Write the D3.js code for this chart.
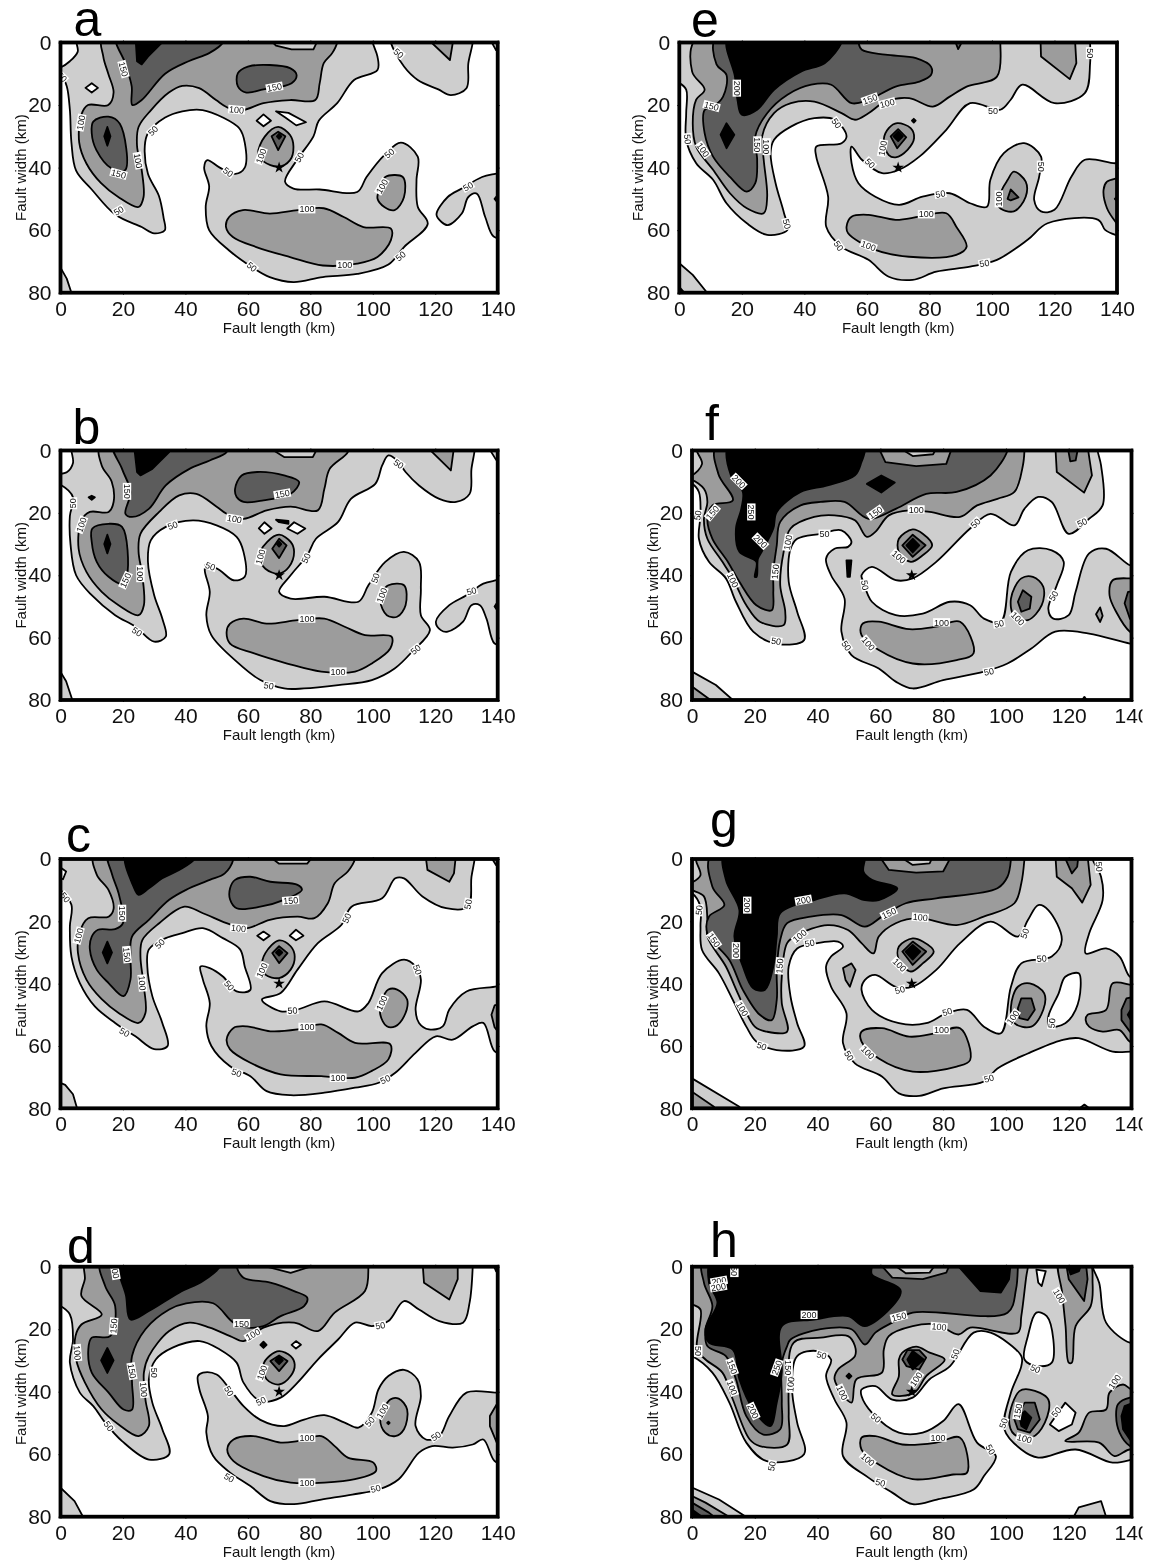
<!DOCTYPE html>
<html><head><meta charset="utf-8">
<style>html,body{margin:0;padding:0;background:#fff}svg{display:block;filter:blur(0.6px)}text{font-family:"Liberation Sans",Arial,sans-serif}</style>
<script src="https://cdnjs.cloudflare.com/ajax/libs/d3/7.8.5/d3.min.js"></script>
</head><body><svg id="chart" width="1162" height="1561"></svg>
<script>
const xTicks=[0,20,40,60,80,100,120,140];
const yTicks=[0,20,40,60,80];
const levelFill={0:"#ffffff",50:"#cecece",100:"#9c9c9c",150:"#5c5c5c",200:"#000000"};
const hypocentre=[70,40];
const panelNames=["a","b","c","d","e","f","g","h"];
// Each ring: [level, [x,y,x,y,...]] in km, painted in order.
const ringsA=[
[50,[5.5,-2,5.5,3,3,6,0,8,-2,8.5,-2,10,0.5,11,2,14,3,21.5,3.5,32,5,41,10,47,17.5,55,26,59,30,61,33.4,60,33,56,31.5,49,28,42,27,33,28,29,33.5,24,39,22,45.5,21.6,52,24,57.3,27.5,59,32,59,40,56,42,51,40,47,37.6,46,40,47.6,46,46.5,52.5,47.6,60,54,66.5,61.6,72,67,75,74.6,76.6,84,75,95,74,105,71,110,65.4,117.6,58,114.4,52.5,114,44,114.4,36.5,109,32,103.7,36,98,43,95,47.8,83,47,74.6,46.7,71.9,44.5,75.7,37.6,81,30,82.7,25,88.6,19.4,94,12,101.5,8.8,101.5,4.5,100,0,100,-2]],
[50,[105.8,-2,105.8,0,110,7.7,114.4,12,121,15,125,16.8,130,14.6,130.6,6.6,132,0,132,-2]],
[50,[120.4,55,124,49.4,128.5,46.7,135,43,139.2,42,142,41.5,142,62,138.7,62,136,55.8,133.3,48.3,130.6,49.4,128.5,54.7,124,58.4,122,57.4]],
[50,[-2,72,0,72,2,75.5,3.5,80,3.5,82,-2,82]],
[50,[137,-2,139.5,2.5,142,4,142,-2]],
[0,[8,14.5,10,13,12,14.5,10,16]],
[0,[62.8,25,65,23,67.4,25,65,26.8]],
[0,[69,22,73,22.5,78.6,25.5,75.5,26.5,72,24]],
[100,[13.7,-2,13.7,4.5,15.3,10,17,16,15.3,20,8.8,20,6.7,23,6,32,8.3,38.7,13,45,18.5,49.4,25,52.6,26.6,49.4,26,40.8,24.5,33,25,27,29,21.6,34.7,16,39,13.9,44.4,14.6,49.8,18.4,54,21,58.4,21.6,65,19.4,73.5,18.4,81.6,18.4,83,13,84.3,6.6,87,3.4,88.6,0,88.6,-2]],
[50,[67,-1,69,1,74,2.2,81,2.2,82.5,-1]],
[100,[65.4,30.1,69.7,27,73.5,29.6,74.6,33.3,73.5,37.6,69.7,39.7,65,38,63.3,35.5]],
[100,[53,59,54,55.8,58.4,53.6,67,54.7,76,53.6,84.3,53,90.7,55.8,97,59,105.8,59.5,105.8,63.2,101.5,68.6,95,70.7,84,71.3,73.5,68.6,62.7,65.4,55.2,62.2]],
[100,[104,43,109.6,43,110,49.4,107,53.6,103.7,52.6,101.5,49.9,102.5,46]],
[100,[117.7,-1,124.7,5.6,125.8,-1]],
[150,[18,-2,20.7,6.6,22.8,14,23,20,26,18.4,33.5,10,41,6,47.6,3.4,52,0,52,-2]],
[150,[10.5,25.3,15.3,23.7,19,26,20.7,40.8,16.4,40.3,11.5,34.4,10,29]],
[150,[56.8,9.8,60,7.7,67,7.2,73.5,8.2,75.6,10.4,74,13,65,15,59.5,16,56.8,14]],
[150,[67.6,30,69.7,28.5,72,30,69.7,34.4]],
[200,[24,-2,24.5,6,26,7,28,4.5,32.5,0,33,-2]],
[200,[14,30,15,27,16,30,15,33]],
[200,[69.3,30,70,29.2,70.7,30,70,30.8]],
[200,[139,50,140,48.8,141,50,140,51.2]]];
const labelsA=[[0.5,11,"50",45],[20.2,8.5,"150",75],[6.5,25.6,"100",-80],[18.6,42,"150",15],[24.9,37.8,"100",80],[29.6,28.2,"50",-45],[18.6,53.8,"50",-30],[56.4,21.5,"100",5],[68.5,14.3,"150",-10],[64.2,36.3,"100",-70],[76.4,36.7,"50",-60],[53.7,41.4,"50",35],[78.9,53.3,"100",0],[102.9,46,"100",-60],[105.3,35.4,"50",-40],[91,71,"100",0],[108.9,68.3,"50",-40],[61.3,71.7,"50",40],[130.5,46,"50",-30],[108.3,3.4,"50",40]];
const ringsB=[
[50,[3.5,-2,3.5,0,4,4,2,7,-2,8,-2,10.5,0,11,4,15,3,21,3.2,30,5,40,10,46.4,17.5,52.8,24,56.5,30,61.3,33.7,59.7,32.6,53.9,30,46.4,28,35.7,28.9,28.8,33.7,24.5,42.4,22.4,50,24,56.4,27.7,58.6,32.5,59,40.5,55.4,41.6,51,38.4,46.7,36.3,46.2,38.4,47.8,45.3,46.7,52.8,48.3,59.2,56.4,67.7,64,73.6,71.6,76.3,78,76.3,88.9,75.2,99.7,73.6,107,69.9,112.6,64.5,118.3,57.6,115.4,52.8,115.4,44.3,114.8,35.7,110,32.5,104,35.7,98.6,43.2,95.4,48.5,84.5,46.9,73.7,47.5,70,45.3,73.7,40,79,33.6,81.8,28.3,88.9,22.9,93,15.5,100.8,10.7,103,4.8,105,1.6,107.8,3.2,110.5,6.9,114.8,11.2,121.3,15.5,126.7,16.5,131,13.9,131.6,5.9,132.6,0,132.6,-2]],
[50,[120.2,54.9,124.5,49.6,130,46.4,135.4,42.7,139.7,41.6,142,41,142,62,139,61.9,136.4,53.9,134.3,49.6,131.6,49.6,128.9,54.9,124,58.1,121.8,57.6]],
[50,[136.4,-2,139.5,3,142,4,142,-2]],
[50,[-2,71,0,71,1.8,74,3.8,80,4,82,-2,82]],
[0,[63.5,25,65.3,23,67.6,25,65.3,26.7]],
[0,[72.6,25,74.8,23,78.4,25,75.9,26.7]],
[200,[9,15,10,14.5,11,15,10,15.8]],
[200,[69,22.2,73,22.6,73,23.5,70,23]],
[100,[13,-2,13.2,4.8,16.4,10,17,16.5,15.4,19.7,9.4,19.7,6.7,22.4,5.8,31.5,8.3,38.9,13.2,45.3,18.6,49.6,25,52.8,26.7,49.6,26.2,40,25,32.5,25.6,26.7,31.6,19.7,38,14.4,43.5,13.9,50,18,53.2,20.3,58.6,21.9,66,19.2,73.7,18,82.4,19.2,84.5,12.3,86.2,5.9,92,0.5,92,-2]],
[50,[66.7,-1,71.6,2.1,80.8,2.1,82.4,-1]],
[100,[66.2,29.3,70,27,73.7,29.3,74.8,32.5,73.2,37.3,70,39.5,65.6,37.9,63.5,34.1]],
[100,[53.2,58.1,54.3,55.5,58.6,53.9,66,55.5,75.9,54.4,84.5,53.9,91,56.5,97.5,59.2,106,59.7,105.6,63.5,99.7,68.3,94.3,70.9,83.5,70.9,72.6,68.3,61.8,65,54.3,61.9]],
[100,[105,43.2,110,43.2,110.5,49.6,107.8,53.3,104.5,52.8,102.4,48.5,103,45.5]],
[100,[117.5,-1,125,6.4,126,-1]],
[150,[17,-2,19.7,5.9,22.4,13.3,20.8,20.3,22.9,21.3,28.3,18.7,33.7,11.2,41.3,5.9,47.8,3.2,53.2,0.5,53.2,-2]],
[150,[10.2,25,15.4,23.5,19.7,24.5,21.3,40,19.7,42.7,15.4,40.5,11.6,35.7,10,29.3]],
[150,[55.9,12.3,58,8,63,6.9,71.6,8,76.4,10.1,73.7,13.9,65,16,58.6,16.5,56.4,14.9]],
[150,[70,28.3,72.4,30.4,70,34.5,67.8,31.5]],
[200,[23.5,-2,24.5,6.9,25.6,8,29.4,5.9,34.8,0.5,35,-2]],
[200,[14,30,15,27,16,30,15,33]],
[200,[69.3,30,70,29.2,70.7,30,70,30.8]],
[200,[139,50,140,48.5,141,50,140,51.5]]];
const labelsB=[[4,16.9,"50",-90],[6.7,23.8,"100",-70],[21.3,13.1,"150",90],[20.8,41.6,"150",-65],[25.6,39.5,"100",90],[35.9,24,"50",-20],[55.7,21.9,"100",10],[71,13.9,"150",-10],[64,34.1,"100",-75],[78.6,34.5,"50",-65],[48,37.1,"50",20],[108.3,4.3,"50",35],[24.5,58.1,"50",35],[78.9,53.9,"100",0],[100.8,40.9,"50",-70],[102.9,46.4,"100",-70],[88.9,70.9,"100",0],[113.7,63.8,"50",-40],[66.7,75.4,"50",10],[131.6,45.1,"50",-15]];
const ringsC=[
[50,[-2,-2,-2,9.5,0,10,3.5,14.7,3,21.7,3.5,31.3,6.2,39.8,11,47.3,17.5,52.6,24,56.9,30,61,34.3,60,32.6,52.6,29.4,44,27.8,34.5,28.3,29,33.7,25.4,39,23.8,45.6,22.2,52,25.4,57.5,29,59,34.5,60.8,42,56.4,42.5,52,37.7,47.8,35,44.8,34.5,45.6,38.7,47.8,46.2,46.7,53.7,48.3,60,54.3,66.5,60.8,69.7,66,74.5,73.7,75.8,84.5,75,94.3,73.4,101.9,71.8,107.2,68.6,113.7,62.2,120.2,56.9,125.6,58,132,53.7,135.4,52.6,139,61.7,142,62,142,40,139.7,40.9,130,42.5,124.5,48.3,122.4,53.7,118,54.7,114.8,52.6,113.7,48.3,115.4,38.7,113.7,34.5,110,32.3,103,36.6,98.6,46.2,95.4,48.9,84.5,45.7,75.9,48.3,70.5,48.9,64.5,45.1,70.5,43,75.9,35.5,82.4,27,90,21.1,93.2,15.3,103,12.6,107.2,6.2,110,6.2,115.9,12,123.5,15.8,130.5,15.3,131.6,5.7,132.6,0,132.6,-2]],
[50,[-2,71,1.5,72.5,4,75.5,5.3,80,5.5,82,-2,82]],
[0,[-1,2,1.8,4,0.8,6.5,-1,6]],
[0,[63,24.6,65,23.3,67,24.6,65,26.1]],
[0,[73.4,24.6,75.4,22.7,77.8,24.6,75.4,26.1]],
[100,[11,-2,11.6,5,15.4,10,17,16,15.4,18.5,8.9,19,6.2,23.3,5.6,30.2,8.3,38.7,13.2,45,18.6,49.4,25,52.6,27.2,49.4,26.7,40.9,25.6,31.3,26.2,26,31.6,20.6,39.7,15.3,45.6,17.4,54.3,21,59.7,22.2,67,19.5,75.9,18.5,81.3,19,85.6,14.2,87.8,7.8,92,4,94.3,0,94.3,-2]],
[50,[66.7,-1,70,1.5,79,1.5,81,-1]],
[100,[65.6,30.2,70,26.1,73.7,28,75,31.3,73.7,35.5,70,38.2,65.6,37.1,64.5,34.5]],
[100,[53.2,57.9,55.4,54.2,59.7,53.7,67.2,55.3,75.9,54.7,83.5,53.1,88.9,55.8,94.3,59,105.6,59.5,105,64.3,99.7,68,94.3,70.2,83.5,69.7,70.5,69.1,60.8,65.4,54.3,61.1]],
[100,[105,41.9,107.8,41.9,111,45.1,110,50.5,107.2,53.7,104.5,53.7,102.4,49.9,102.9,45.5]],
[100,[116.8,-2,117.5,3.5,124.5,7.3,126,4.6,126.7,-2]],
[100,[137,-2,139.5,2,142,-2]],
[100,[142,46,139,47,138,50,139,54,142,58]],
[150,[15.4,-2,16.4,4.6,18.6,11,20,20.6,17.5,22.5,12,22.7,10,24.9,9.4,29,11.6,35.5,15.4,39.8,20.2,44,22.4,38.7,22.4,31.3,22.9,24.9,28.3,19.5,34.8,13.1,40.2,9.9,47.8,6.7,52.6,4.6,55.4,0,55.4,-2]],
[150,[54.3,9.4,55.9,6.7,60.8,5.7,67.2,7.3,75.9,8.3,77.3,9.9,71.6,13.1,64,15.3,56.4,15.8,54.3,13]],
[150,[67.8,30.2,70,28,72.7,30.2,70,33.4]],
[200,[21,-2,23.4,8.9,25,11.5,28.3,9.4,32.6,6.2,38,3.5,42.9,0,43,-2]],
[200,[13.5,30,15,26.5,16.5,30,15,33.5]],
[200,[69,30,70,29,71,30,70,31]]];
const labelsC=[[1.5,12.3,"50",50],[19.7,17.4,"150",90],[5.8,24.6,"100",-75],[21.3,30.7,"150",85],[26.2,39.8,"100",85],[31.8,27.2,"50",-45],[57,22.2,"100",5],[73.7,13.3,"150",-5],[64.5,35.7,"100",-65],[91.6,19,"50",-65],[130.5,14.5,"50",-80],[114.3,35.5,"50",70],[54,40.6,"50",50],[102.9,46.2,"100",-65],[74.3,48.6,"50",-5],[78.9,53.9,"100",0],[88.9,70.2,"100",0],[20.5,55.6,"50",30],[56.4,68.6,"50",20],[104,70.7,"50",-25]];
const ringsD=[
[50,[-2,-2,-2,12,0,12.6,3,15.3,4,23.3,3,30.7,6.2,40.3,10.5,44.6,14.3,49.9,19.7,55.8,28.3,61.7,34.8,60,32.6,52,29.4,43.5,28.3,36,30.5,29.7,35.9,25.9,44.6,23.8,51,26.5,56.4,30.7,58.6,37.1,64,43,70.5,41.9,75.9,37.1,82.4,29.7,88.9,23.3,94.3,17.9,99.7,19,105,17.4,110,11,114.8,13.7,121.3,17.4,128.9,17.9,131,11.5,132,0,132,-2]],
[50,[44,35,45.6,33.9,50,34.5,54.3,39.3,58.6,44.6,64,49,71.6,51,78,48.9,84.5,47.5,91,49.9,95.4,51.5,99.7,46.7,101.8,39.3,105,35,110,33,114.3,36,115.4,41.4,113.7,51,117,55.3,121.3,54.2,124.5,47.8,130,40.3,139.7,40.3,142,40,142,63,139,62.2,135.4,55.3,132,56.9,125.6,57.9,119,57.4,114.8,59.5,108.3,68,101.9,71.3,93.4,72.9,83.5,74.5,74.8,76,67.2,75,60.8,70.2,54.3,65.9,48.9,60.6,46.7,53.1,47.2,47.8,44.5,39.3]],
[50,[-2,70,0,70.7,4.5,75,7.2,80,7.5,82,-2,82]],
[50,[138,-2,139.5,1.5,142,-2]],
[0,[74,25,75.4,23.8,77,25,75.4,26.2]],
[100,[8.3,-2,7.8,4,6.7,9.4,13.2,15.3,6.7,18.5,4.8,22.2,5,29.7,7.8,37,13.2,45.7,18.6,50.5,25,54.2,28.3,51,27.2,42.5,26.7,33.9,28.3,28.6,34.8,20.6,41.3,17.9,47.8,19.5,54.3,22.2,58.6,23.8,65,19.5,74.8,17.9,82.4,20.6,87.8,14.7,97.5,7.8,98.6,0,98.6,-2]],
[100,[70,27,73.7,28.6,75,31.3,73.7,35,70,37.7,66,36,65,31.3,67,28.5]],
[100,[53.4,58.5,55.4,55.3,61.8,54.2,70.5,56.3,75.9,55.8,83.5,54.2,87.8,57.4,92,61.1,100.2,62.7,101,65.4,94.3,68,84.5,69.1,73.7,69.1,65,67,55.4,62.2]],
[100,[105.6,42.5,108.3,42.2,111,45.7,110,52,107.2,54.2,104,53.1,102.4,48.9]],
[100,[115.9,-2,116.4,5.1,124.5,10.5,127.2,4,127.2,-2]],
[100,[137.5,47.8,139.7,44,142,43,142,60,139.7,56.3,137.5,51]],
[150,[13,-2,14.3,6.2,17.5,12.6,15.9,22.2,10,22.7,8.9,26.5,10,33.9,15.4,40.3,20.2,45.7,22.9,45.7,22.9,37,22.9,28.6,27.2,20,34.8,13.7,40.2,11.7,48.9,11.7,55.4,17.9,60,19.5,65,19,70.5,15.8,78,12.6,79,9.9,74.8,7.8,67.2,5.1,58.6,3.5,56.4,0,56.4,-2]],
[50,[66,-2,66,0,73.7,2,80,0,80,-2]],
[150,[67.2,30.2,70,28.4,72.7,30.2,70,33.4]],
[200,[19,-2,21,9.4,22.4,16.9,28.3,14.2,38,8.3,45.6,4.6,51,0,51,-2]],
[200,[13,30,15,26,17,30,15,34]],
[200,[68.8,30,70,28.8,71.2,30,70,31.2]],
[200,[64,25,65,24,66,25,65,26]],
[200,[104.6,50,105,49.6,105.4,50,105,50.4]]];
const labelsD=[[17.5,1.4,"200",80],[17,19,"150",-85],[5.4,27.5,"100",85],[22.9,33.4,"150",80],[15.5,51,"50",55],[26.7,39.3,"100",85],[29.9,33.9,"50",90],[58,18.1,"150",0],[61.6,21.7,"100",-30],[64.5,33.9,"100",-70],[54,39.8,"50",60],[64.2,43,"50",-25],[102.4,18.8,"50",-10],[99,49.6,"50",-50],[103.1,46.2,"100",-60],[78.9,54.7,"100",0],[120.2,54.2,"50",-35],[78.9,69.1,"100",0],[54,67.5,"50",30],[100.9,71,"50",-15]];
const ringsE=[
[50,[-2,-2,-2,12.5,0,13,2.2,15.1,2.2,22.6,2.2,31.1,5.4,38.6,10.8,43.9,15.1,51.4,21.6,57.8,28.1,61.5,34.6,59.9,33.5,54.6,30.8,45,29.2,35.4,30.3,31.1,35.7,26.9,43.2,24.2,49.7,24.7,53.5,30,51.9,32.2,43.8,33.3,43.8,36.5,47.6,49.3,47,58.9,51.9,65.3,60.5,69.5,67,74.9,74.6,75.9,82.2,73.3,93,71.7,101.6,69.5,111.4,63.1,117.8,57.8,134,56.7,136.2,59.9,139.5,61.5,142,62,142,38,139.5,38.6,129.7,37.5,125.4,42.9,120,53.5,115.7,54,113.5,50.3,115.1,42.9,115.7,36.5,110.3,32.2,103.8,35.4,99.5,43.9,98.4,52.5,93,51.4,86.5,48.2,77.8,49.3,70.3,51.9,62.7,49.3,57.3,45,55.1,38.6,55.1,33.3,58.4,37.5,64.9,41.8,70.3,40.7,76.8,36.5,85.4,27.9,93,19.4,102.7,21.5,106,18.3,109.7,13.5,120,19.4,129.7,16.2,131.4,6.6,131.4,0,131.4,-2]],
[50,[-2,70,0,70.6,4.3,74.3,8.9,80,9,82,-2,82]],
[200,[-1,77,1.6,80,-1,81]],
[100,[6,-2,4.1,9.3,8.1,15.1,5.4,18.3,4.3,25.8,5.4,33.3,10.8,40.7,16.2,48.2,21.6,53,27,54.6,28.1,49.3,27,37.5,26.5,30,30.3,22.6,35.7,19.4,43.2,18.9,51.9,22.6,56.2,24.7,60.5,22.6,65.9,18.9,73.5,17.8,81.1,20.5,86.5,17.3,91.9,14.1,101.6,10.9,102.7,0,102.7,-2]],
[100,[69.7,25.8,74,27.4,75.1,30.6,73,34.3,69.2,36.7,67,36,65.4,31.1,67,27.4]],
[100,[53.5,58.9,55.1,55.7,60.5,55.1,69.2,56.7,76.8,55.7,85.4,54.6,88.6,58.9,91.9,65.3,88.6,67.9,73.5,68.5,62.7,66.3,54,61]],
[100,[103.2,47.1,105,44,107,41.3,110.8,44.5,110.8,49.3,107,54,102.2,52.5]],
[100,[115.5,-2,115.7,4.5,124.9,11.7,127,6.6,126.5,-2]],
[100,[135.7,47.1,136.8,44.5,140,43.4,142,43,142,60,139.5,57.3,136.8,53]],
[150,[11.9,-2,11.9,7,15.1,10.4,14,17.3,10.8,20.5,8.1,21.6,8.1,29,10.8,36.5,16.2,43,21.6,47.7,24.3,45,24.9,37.5,24.3,30,28.1,22.6,34.6,16.7,42.2,13.5,48.6,13.5,55.1,19.4,60.5,18.3,69.2,14.1,76.8,12.5,80.5,10.4,80.5,7.7,75.7,5,65.9,3.9,58.4,2.3,57.3,0,57.3,-2]],
[150,[87.6,-2,89.2,2.1,91.4,-2]],
[150,[67.6,30,70,27.7,72.6,30.3,69.7,33.8]],
[150,[105,50,106,47,108.5,49.5,106,50.5]],
[200,[15.7,-2,17.8,10.9,18.6,18.3,20,23.1,24.9,21.5,30.3,15.1,38.9,9.3,46.5,6.6,51.9,0,52,-2]],
[200,[13.2,29.5,15.1,25.8,17.6,29.5,15.1,33.8]],
[200,[68.5,30,70,28.5,71.5,30,70,31.5]],
[200,[74.4,25,75,24.4,75.6,25,75,25.6]],
[200,[139.3,50,140,49.3,141,50,140,50.7]]];
const labelsE=[[18.4,14.6,"200",90],[10.3,20.3,"150",15],[2.7,30.9,"50",85],[7.6,34.3,"100",55],[25,32.7,"150",90],[27.9,33.3,"100",90],[50.3,25.8,"50",55],[34.4,58,"50",75],[61,18.1,"150",-20],[66.5,19.4,"100",-15],[100.3,21.8,"50",0],[131.4,3.4,"50",90],[65,33.8,"100",-80],[61,38.6,"50",45],[83.5,48.4,"50",-10],[115.7,39.7,"50",90],[102.2,50,"100",-90],[79,54.9,"100",0],[60.5,65,"100",20],[51,65,"50",55],[97.6,70.6,"50",-10]];
const ringsF=[
[50,[-2,-2,-2,10.5,0,10.7,2.2,13.3,2.7,20.8,2.2,28.3,5.4,35.7,10.8,41,14,48.5,19.5,58.1,27,62,35.7,60.8,33.5,51.7,30.8,42,31.4,31.5,33.5,28.3,41,26.7,47.6,25.6,50.8,29.3,49.7,30.9,45.4,31.5,42.7,34.7,44.3,40,48.6,47.5,47.6,58.1,50.8,65.6,59.5,69.9,64.9,74.1,70.3,76.3,80,73.6,93,70.9,100.5,68.3,108.1,63.5,115.7,58.1,126.5,58.7,139.5,61.9,142,62,142,37,139.5,36.8,131.9,31.5,126.5,33,122.2,45.3,120,52.8,115.1,53.9,113.5,50.7,116.2,43.2,118.4,35.7,114.6,32,107,32,101.6,38.9,98.4,54.9,93,53.9,88.6,49.6,82.2,48.5,73.5,52.3,64.9,52.8,57.3,48.5,54.6,42.1,54,40,57.3,37.3,64.9,41.6,70.3,41,77.8,35.7,88.6,25,95.1,20.3,102.7,24,105.9,18.7,110.3,14.9,114.6,16.5,120,26.7,126.5,21.9,130.8,17.6,130.3,4.8,129.2,0,129.2,-2]],
[50,[-2,70.5,0,70.9,7.6,75.2,13,80,13.5,82,-2,82]],
[50,[124.3,80,125,79,125.7,80,125,81]],
[100,[-2,75,0,75.7,5.9,80,6,82,-2,82]],
[100,[128.7,52.5,130,50.3,130.8,53,130,55]],
[100,[1.5,-2,1.5,0,3.2,4.3,0,8,-2,8.5,-2,9.5,0,9.5,3.8,12.3,4.9,16.5,3.8,21.9,4.9,28.3,9.7,35.7,13,41,17.3,49.6,21.6,54.9,29.2,56,29.7,51.7,28.1,43.2,29.2,32.5,31.4,25,38.9,21.3,45.4,20.8,51.9,22.4,55.7,27.7,58.4,26.1,62.7,20.8,69.2,19.2,75.7,19.7,85.4,21.3,90.8,17.6,97.3,15.5,102.7,13.3,105.4,4.8,105.9,0,105.9,-2]],
[100,[65.9,28.3,70.3,25.3,73.5,26.7,76.5,30.4,73.5,33.6,69.7,35.7,65.9,32.5]],
[100,[54,56,55.1,55.1,59.5,54.9,69.2,57.3,77.8,56.5,85.4,54.9,89.7,65,84.3,67.2,70.3,68.3,59.5,64,54,59.2]],
[100,[101.6,47.5,104.9,41,108.6,40.5,111.9,43.7,111.4,49.6,107,54.4,102.7,53.3]],
[100,[133,46.4,134,41.6,140,41,142,41,142,59,139.5,58.1,135.1,51.7]],
[100,[115.7,-2,116.2,6.9,124.9,13.5,127.4,8,125.9,-2]],
[150,[8.1,-2,8.4,7.5,13,16,6.5,17.6,4.9,21.9,6.5,28.3,11.4,35.7,15.1,42.1,20.5,49.6,25.4,51.2,25.9,45.3,25.9,38.9,27,30.4,28.1,22.9,34.6,17.6,41,16.5,48.6,16.5,56.2,21.9,64.9,18.7,74.6,13.9,84.3,13.3,95.1,8,100.5,0,100.5,-2]],
[100,[58.9,-2,61.6,3.7,71.4,5,81,4.3,83.2,-2]],
[50,[65.9,-1,70.3,1.8,76.8,1.2,78,-1]],
[150,[67,30.4,70.3,27,74.4,30.4,70.3,34.1]],
[150,[103.8,48.5,105.4,44.8,108.1,46.9,107.6,50.7,104.9,51.7]],
[150,[137.8,49,138.9,45.3,142,45,142,57,139.5,53.9]],
[150,[119.5,-2,120.5,3.5,122.2,3.2,123.2,-2]],
[200,[11.9,-2,12.4,8,16.2,13.3,15.7,18.7,14,25,15.1,32.5,20.5,35.7,20,40.5,20.6,40.5,21,34.7,22.2,32.5,25.9,25,27,19.7,34.6,13.3,43.2,11.2,51.9,8,54,3.7,55.1,0,55.1,-2]],
[200,[55.7,10.7,60.3,8,64.6,10.3,60.3,13.5]],
[200,[68.3,30.4,70.3,28.3,72.4,30.4,70.3,32.7]],
[200,[49.2,35.2,50.8,35.2,50.3,40.5,49.5,40.5]]];
const labelsF=[[14.9,9.9,"200",45],[18.9,19.7,"250",90],[21.8,29.1,"200",45],[6.5,19.9,"150",-50],[1.8,20.8,"50",-80],[13,41.6,"100",65],[26.5,38.9,"150",-85],[30.5,29.5,"100",-80],[42.2,26.7,"50",0],[58.4,19.9,"150",-35],[71.4,18.9,"100",0],[90.3,23.3,"50",-45],[124.3,23.1,"50",-25],[65.9,34.1,"100",40],[55.1,43.2,"50",80],[115.1,46.6,"50",-60],[97.8,55.5,"50",-10],[103.8,53.9,"100",45],[79.5,55.1,"100",0],[56.2,61.9,"100",50],[49.2,62.6,"50",55],[26.8,61.1,"50",10],[94.6,70.9,"50",-10]];
const ringsG=[
[50,[-2,-2,-2,10.5,0,11,2.7,15.3,2.7,21.7,3.2,29.2,8.6,36.7,13,45.2,17.3,53.8,20.5,58.6,27,61.3,35.7,60.2,33.5,52.7,31.4,44.2,30.8,34.5,33.5,28.7,40,27,46.5,26.5,48.1,28.1,44.3,31.3,42.7,34.5,44.3,41,49.2,49.5,48.1,59.1,51.9,65.6,60.5,69.8,65.9,75.2,72.4,76,80,73.6,93,71.4,97.3,67.2,107,62.4,117.8,58.1,123.2,57.5,134,61.8,140,61.8,142,62,142,38,139.5,37.8,136.2,31.3,131.9,28.7,125.4,30.3,126.5,23.9,130.8,13.2,130.3,5.7,127.6,0,127.6,-2]],
[0,[55.1,38.8,58.4,37.2,64.9,41,70.3,41,77.8,35.6,85.4,27,95.1,20.1,103.8,24.9,107,19.6,110.3,14.8,113.5,16.4,117.8,26,114.6,31.3,104.9,33.5,101.6,41,98.4,55.9,93,53.8,87.6,48.4,81.1,49.5,74.6,52.7,65.9,52.7,57.3,48.4,54,42]],
[0,[113.5,50.6,116.8,43.1,118.9,37.8,123.2,36.7,123.8,41,122.2,48.4,118.9,52.7,113.8,53.8]],
[50,[-2,70,0,70.4,15.1,79.5,16,82,-2,82]],
[100,[-2,74.3,0,74.7,7,79.5,7.5,82,-2,82]],
[100,[123.5,80,125,78.8,126.5,80,125,81]],
[100,[1.5,-2,1.3,0.5,2.7,5.2,0,7.5,-2,8,-2,9,0,10,3.8,12,4.9,19.6,4.9,24.9,10.8,34.5,14.6,43.1,20,53.8,23.8,55.4,30.3,55.4,28.6,46.3,28.6,37.8,30.3,27,33.5,24.4,43.2,21.2,49.7,22.8,54,27,57.8,30.3,59.5,24.9,64.9,20.6,72.4,19,84.3,21.2,92.9,18.5,102.7,14.2,104.9,7.8,105.9,0,106,-2]],
[100,[65.9,28.1,70.3,25.5,73.5,26.5,77,29.7,73.5,33.5,69.7,36.1,65.9,32.4]],
[100,[48.1,35,50.8,33.5,52.1,35.6,50.3,41,48.9,38.8]],
[100,[54,55.4,60.5,54.3,69.2,57,77.8,55.9,85.4,54.3,88.6,64.5,84.3,66.6,70.3,68.2,59.5,64,54,58.6]],
[100,[101.6,47.4,103.8,41,107.6,39.9,112.2,43.1,111.9,48.4,108.1,53.8,102.7,52.7]],
[100,[125.4,51.7,126,50,131.9,48.4,134,39.9,140,40.4,142,40.5,142,59,139.5,58.6,136.2,54.9,130.8,55.4,126.5,53.8]],
[100,[115.7,-2,116.2,5.7,121,9.4,124.3,14,127,8.3,125.9,-2]],
[150,[6.5,-2,6.5,8.9,10.3,14.8,5.4,18.5,4.9,23.9,11.9,32.4,16.2,42,21.6,50,25.4,51.7,27,45.2,27,35.6,28.1,26,30.3,20.6,37.8,18.5,47.6,18,55.1,21.7,60.5,18.5,68.1,14.2,77.8,12.6,97.3,9.4,100.5,5.7,101.6,0,101.6,-2]],
[100,[58.9,-2,62.7,3.5,71.4,4.4,80,4,83.2,-2]],
[50,[65.9,-1,70.3,1.9,75.7,1.4,76.8,-1]],
[150,[67,29.7,70.3,26.5,74.6,29.7,70.3,34]],
[150,[103.8,47.9,104.9,44.7,108.1,44.7,109.2,48.4,107,51.7,104.3,51.1]],
[150,[136.8,48.4,138.4,44.7,142,44,142,58,139.5,55.4,136.8,51.7]],
[150,[118.1,-2,121,4.6,122.7,2.5,123.2,-2]],
[200,[10.6,-2,10.8,6.7,15.1,16.4,13.5,24.9,16.2,34.5,19.5,41.5,23.2,42,25.9,34.5,27,24.9,28.1,17.4,38.9,13.2,48.6,11,55.1,13.2,59.5,13.2,65.4,9.4,57.3,6.7,54.6,4,55.1,0,55.1,-2]],
[200,[68,29.7,70.3,27.6,72.7,29.7,70.3,32.3]],
[200,[138.8,50,140,48,141,50,140,52]]];
const labelsG=[[17.6,14.8,"200",90],[35.5,13.2,"200",-10],[14,29.4,"200",90],[7,26,"150",55],[2.2,16.4,"50",-85],[16,48.1,"100",60],[27.9,34.3,"150",-85],[34.3,24.7,"100",-40],[37.5,27,"50",-10],[62.7,17.4,"150",-25],[72.7,18.7,"100",5],[106,23.9,"50",-70],[111.4,31.9,"50",-5],[66.1,34,"100",45],[66.2,42,"50",-15],[81.3,49,"50",-15],[102.2,50.8,"100",-55],[114.6,52.7,"50",-85],[79.5,54.9,"100",0],[56,62.1,"100",45],[50,63.1,"50",60],[22.2,60,"50",20],[94.6,70.4,"50",-15],[129.7,2.5,"50",85]];
const ringsH=[
[50,[-2,-2,-2,28,0,28.6,6.5,33.9,11.9,43.5,17.3,56.3,23.8,62.2,35.7,60,33.5,49.9,31.9,39.3,33.5,28.6,40,27,44.3,29.7,42.7,35,45.4,42.5,49.2,49.9,48.1,60.6,56.2,67.5,63.8,72.3,70.3,76,78,74.5,89.7,71.3,93,67,96.8,60.6,90.8,56.3,84.9,44,80,49.4,73.5,53.1,65.9,53.1,57.3,46.7,54,41.4,54,39.3,58.4,38.2,63.8,42.5,70.3,41.9,75.7,36,82.2,31.8,89.7,21.1,95.1,21.1,104.9,28.6,104.9,31.8,101.6,40.3,99.5,52,104.9,58.5,110.3,61.1,122.2,58.5,134,62.7,140,61.7,142,61,142,24,139.5,24.3,131.9,17.9,129.7,5.1,127.6,0,127.6,-2]],
[0,[107,22.2,109.7,14.7,113,15.8,115.1,23.3,114.6,30.7,110.3,31.8,105.9,29.7]],
[0,[114,50.5,118.9,43.5,122.2,46.7,121,50.5,116.8,52.6]],
[0,[109.7,0.9,112.7,1.4,111.4,6.2,110.3,5.1]],
[50,[-2,70,0,70.7,8.6,74.5,16.8,79.8,17,82,-2,82]],
[50,[121.6,80,123.2,77,130.3,75,131.9,80,132,82,121.6,82]],
[100,[-2,73,0,73.4,4.3,75.5,11.4,79.8,12,82,-2,82]],
[150,[-2,75,0,75.5,5.4,78.7,7,80,7.5,82,-2,82]],
[200,[-2,77,0,77.7,3.2,80,3.5,82,-2,82]],
[100,[-2,-2,-2,11,0,12,2.7,13.7,1.6,26.5,4.3,29.7,9.7,33.9,13,42.5,18.4,55.3,21.6,57.4,30.3,56.9,30.8,47.8,30.8,39.3,32.4,24.3,41,22.7,49.7,22.2,51.9,25.4,51.9,28.6,46.5,32.9,45.4,36,50.8,43.5,52.4,36,60.5,33.9,61.1,26.5,62.7,22.2,70.3,19,77.8,18.5,84.9,21.7,88.6,19.5,103.8,21.1,104.9,15.8,106.5,3,107,0,107,-2]],
[100,[67,27.5,71.4,25.6,75.7,27.5,80.5,29.7,74.6,35,70.8,40.3,63.8,40.9,65.9,35,65.9,29.7]],
[100,[54,54.7,58.4,54.2,67,56.9,77.8,56.3,85.4,54.7,87.6,65.9,83.2,66.5,70.3,68,59.5,63.3,54,58.5]],
[100,[101,48.9,104.3,39.8,107.6,39.3,113.5,42.5,112.4,49.9,108.1,54.7,102.7,53.7]],
[100,[118.9,55.8,123.2,53.1,126.5,46.7,131.9,45.7,133,40.3,137.3,37.7,140,39.3,142,39,142,60,139.5,58.5,134.6,60.6,129.7,56.3]],
[100,[117,-2,117.9,8.3,119,19,120,30.7,121,30.7,122.2,19,127,12.6,127.6,5.1,126.5,-2]],
[150,[3.8,-2,3.8,5.1,6.5,12.6,4.3,20,4.9,25.4,10.8,28.6,14,36,17.3,47.8,22.7,53.7,28.1,52,28.6,43.5,28.6,30.7,30.3,25.4,31.4,23.3,41,20,50.8,20,55.1,24.9,58.4,21.1,63.8,17.9,70.3,14.7,100.5,14.7,103.2,7.3,103.8,0,103.8,-2]],
[150,[67,29.7,68.6,26.7,72.4,26.7,74.6,29.1,72.4,32.9,68.3,31.8]],
[150,[102.7,48.9,106,43.5,109.2,43.5,110.8,48.9,107.6,53.1,103.8,52]],
[150,[135.1,47.8,135.7,44,139.5,41.9,142,42,142,58,139.5,57.4,136.2,53.1]],
[150,[119,-2,120,4,124.9,11,126,4,125.4,-2]],
[200,[6.5,-2,5.4,5.1,8.1,11.5,4.3,20,5.4,24.3,13,26.5,15.1,36,19.5,45.7,24.9,51,27,43.5,28.6,33.9,28.6,19,38.9,16.9,49.7,15.8,55.1,19,66.5,7.8,57.3,2.5,57.3,0,57.3,-2]],
[100,[58.9,-2,63.8,3.5,73.5,4,81,1.9,82.7,-2]],
[50,[63.8,-1,68.1,2.1,75.7,1.9,77.8,-1]],
[200,[83.2,-2,91.9,7.8,98.4,8.3,101,4,101.6,-2]],
[200,[68.6,29.7,70.3,27,73.8,29.7,70.3,32.9]],
[200,[49.2,35,50,34.2,50.8,35,50,35.8]],
[200,[104.3,47.8,106,46.2,108.1,48.3,106.5,52,104.9,51]],
[200,[136.8,47.8,137.8,44.6,142,43,142,57,139.5,55.3,137.3,52]],
[200,[119,-2,120.6,2.5,123.3,1.4,124.4,-2]]];
const labelsH=[[13.5,1.4,"50",90],[8.6,4.6,"200",-10],[8.4,6.5,"200",-10],[37.3,15.4,"200",0],[65.9,16,"150",-15],[78.7,19.2,"100",5],[83.8,28,"50",-70],[41.3,28.3,"50",15],[27,32.3,"250",-70],[30.8,32.3,"150",90],[31.4,37.7,"100",-85],[12.8,32,"150",70],[12.8,38.7,"100",70],[19.5,46.2,"200",65],[2,27,"50",90],[47.8,40.3,"100",65],[71.4,36,"100",-55],[58.6,48.3,"50",40],[25.4,63.8,"50",-80],[78.4,54.7,"100",0],[56,61.7,"100",40],[60,69.1,"50",15],[95.1,58.5,"50",60],[109.4,32.6,"50",25],[117,9.4,"100",60],[99.2,50.1,"50",-70],[103.8,46.2,"150",-80],[105.9,55,"100",15],[116,46.5,"50",-50],[134.6,36.8,"100",-55]];

const allRings=[ringsA,ringsB,ringsC,ringsD,ringsE,ringsF,ringsG,ringsH];
const allLabels=[labelsA,labelsB,labelsC,labelsD,labelsE,labelsF,labelsG,labelsH];
const frames=[[60.5,497.7,42.5,292.7],[60.5,497.7,450.5,700],[60.5,497.7,859,1108.3],[60.5,497.7,1266.7,1516.7],
[679.3,1117,42.5,292.7],[692,1131.5,450.5,700],[692,1131.5,859,1108.3],[692,1131.5,1266.7,1516.7]];
const letterPos=[[73.5,36],[72.5,444],[66,852],[67,1263],[691,37],[705,440],[710,837],[710,1257]];
const titleOffset=[34.7,34.7,34.7,34.7,36.5,34.5,34.5,34.5];

const svg=d3.select("#chart");
const defs=svg.append("defs");
defs.append("clipPath").attr("id","pageclip").append("rect").attr("x",0).attr("y",0).attr("width",1142.5).attr("height",1561);

panelNames.forEach((name,i)=>{
  const [L,R,T,B]=frames[i];
  const x=d3.scaleLinear().domain([0,140]).range([L,R]);
  const y=d3.scaleLinear().domain([0,80]).range([T,B]);
  const id="plot"+name;
  defs.append("clipPath").attr("id",id).append("rect").attr("x",L).attr("y",T).attr("width",R-L).attr("height",B-T);
  const g=svg.append("g").attr("clip-path",i>=5?"url(#pageclip)":null);
  const plot=g.append("g").attr("clip-path",`url(#${id})`);
  const smooth=d3.line().x(d=>x(d[0])).y(d=>y(d[1])).curve(d3.curveCatmullRomClosed.alpha(0.5));
  const straight=d3.line().x(d=>x(d[0])).y(d=>y(d[1])).curve(d3.curveLinearClosed);
  plot.selectAll("path.ring").data(allRings[i]).join("path").attr("class","ring")
    .attr("d",d=>{const pts=d3.range(0,d[1].length,2).map(k=>[d[1][k],d[1][k+1]]);return (pts.length<=6?straight:smooth)(pts);})
    .attr("fill",d=>levelFill[d[0]]).attr("stroke","#000").attr("stroke-width",1.8).attr("stroke-linejoin","round");
  const lab=plot.selectAll("g.lab").data(allLabels[i]).join("g").attr("class","lab")
    .attr("transform",d=>`translate(${x(d[0])},${y(d[1])}) rotate(${d[3]})`);
  lab.append("rect").attr("x",d=>-d[2].length*2.5-1).attr("y",-4.2).attr("width",d=>d[2].length*5+2).attr("height",8.4).attr("fill","#fff");
  lab.append("text").attr("text-anchor","middle").attr("dy","0.36em").attr("font-size",9).attr("fill","#111").text(d=>d[2]);
  plot.append("path").datum(hypocentre).attr("transform",d=>`translate(${x(d[0])},${y(d[1])})`)
    .attr("d",d3.symbol().type(d3.symbolStar).size(42)).attr("fill","#000");
  const ax=g.append("g").attr("transform",`translate(0,${B})`).call(d3.axisBottom(x).tickValues(xTicks).tickSize(2).tickPadding(6));
  const ay=g.append("g").attr("transform",`translate(${L},0)`).call(d3.axisLeft(y).tickValues(yTicks).tickSize(2).tickPadding(7));
  const at=g.append("g").attr("transform",`translate(0,${T})`).call(d3.axisTop(x).tickValues(xTicks).tickSize(2).tickFormat(""));
  const ar=g.append("g").attr("transform",`translate(${R},0)`).call(d3.axisRight(y).tickValues(yTicks).tickSize(2).tickFormat(""));
  [ax,ay,at,ar].forEach(a=>{a.select(".domain").remove();a.selectAll("text").attr("font-size",21).attr("font-family",'"Liberation Sans",Arial,sans-serif').attr("fill","#111");});
  g.append("rect").attr("x",L).attr("y",T).attr("width",R-L).attr("height",B-T).attr("fill","none").attr("stroke","#000").attr("stroke-width",3.8);
  g.append("text").attr("x",(L+R)/2).attr("y",B+40).attr("text-anchor","middle").attr("font-size",15).attr("fill","#111").text("Fault length (km)");
  g.append("text").attr("transform",`translate(${L-titleOffset[i]},${(T+B)/2}) rotate(-90)`).attr("text-anchor","middle").attr("font-size",15).attr("fill","#111").text("Fault width (km)");
  svg.append("text").attr("x",letterPos[i][0]).attr("y",letterPos[i][1]).attr("font-size",50).attr("fill","#000").text(name);
});
</script></body></html>
